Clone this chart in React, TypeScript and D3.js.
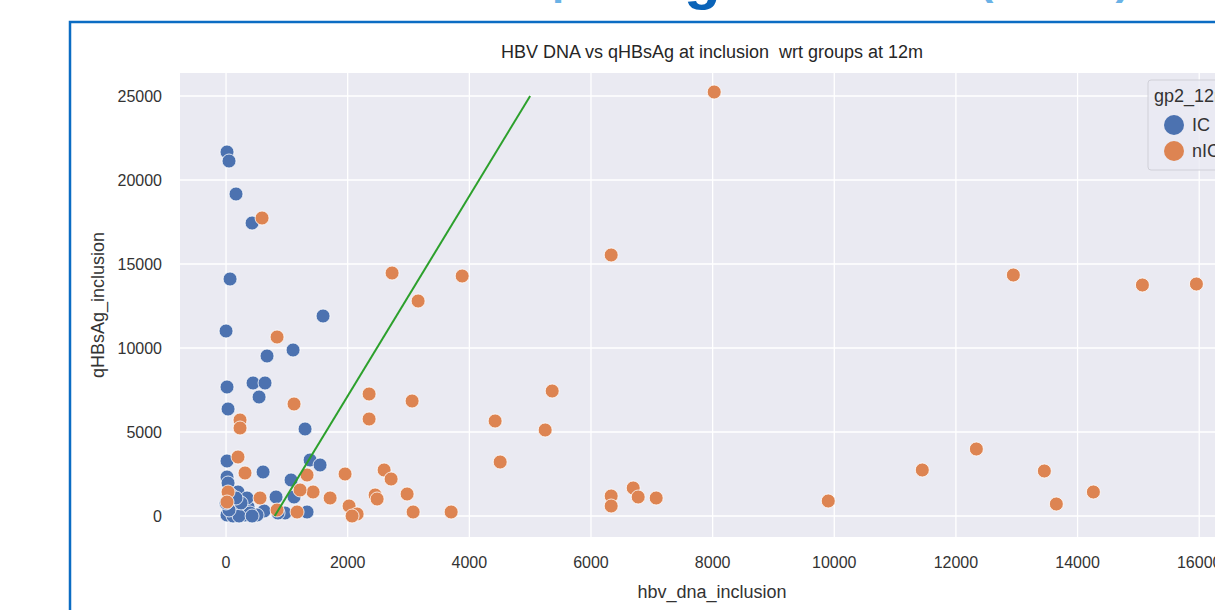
import React from "react"
import * as d3 from "d3"

// hbv_dna_inclusion / qHBsAg_inclusion, group IC
const icDna = [16, 49, 164, 428, 66, 0, 674, 1595, 1102, 16, 444, 641, 543, 33, 1299, 16, 609, 1382, 1546, 16, 33, 1069, 197, 1118, 822, 362, 625, 1332, 16, 181, 66, 280, 510, 970, 345, 855, 99, 148, 230, 312, 395, 115, 214, 428, 49, 0, 82, 247, 164]
const icHbs = [21667, 21131, 19167, 17440, 14107, 11012, 9524, 11905, 9881, 7679, 7917, 7917, 7083, 6369, 5179, 3274, 2619, 3333, 3036, 2321, 1964, 2143, 1429, 1131, 1131, 536, 298, 238, 60, 179, 536, 238, 60, 179, 1071, 179, 952, 655, 357, 60, 179, 0, 0, 0, 357, 774, 1250, 774, 1071]

// group nIC
const nicDna = [8026, 592, 2730, 3882, 3158, 6332, 12944, 15066, 15954, 839, 1118, 2352, 3059, 5362, 2352, 4424, 5247, 4507, 230, 230, 197, 312, 1957, 2599, 2714, 2451, 2484, 2977, 3076, 3701, 2023, 2155, 2072, 1711, 1431, 1332, 1217, 1168, 839, 559, 33, 16, 6332, 6332, 6694, 6776, 7072, 9901, 11447, 12336, 13454, 13651, 14260]
const nicHbs = [25238, 17738, 14464, 14286, 12798, 15536, 14345, 13750, 13810, 10655, 6667, 7262, 6845, 7440, 5774, 5655, 5119, 3214, 5714, 5238, 3512, 2560, 2500, 2738, 2202, 1250, 1012, 1310, 238, 238, 595, 119, 0, 1071, 1429, 2440, 1548, 238, 357, 1071, 1429, 833, 1190, 595, 1667, 1131, 1071, 893, 2738, 3988, 2679, 714, 1429]

const groups = ["IC", "nIC"]
const xTicks = [0, 2000, 4000, 6000, 8000, 10000, 12000, 14000, 16000]
const yTicks = [0, 5000, 10000, 15000, 20000, 25000]
const cutLine = [[800, 0], [5000, 25000]]

const colors = ["#4C72B0", "#DD8452"]
const font = "Liberation Sans, Arial, sans-serif"

export default function App() {
  const x = d3.scaleLinear().domain([-757, 16720]).range([180, 1243])
  const y = d3.scaleLinear().domain([-1250, 26370]).range([537, 73])

  const ic = icDna.map((d, i) => ({ x: d, y: icHbs[i], g: 0 }))
  const nic = nicDna.map((d, i) => ({ x: d, y: nicHbs[i], g: 1 }))
  const pts = [...ic, ...nic]

  const line = d3.line<number[]>().x(d => x(d[0])).y(d => y(d[1]))

  return (
    <div style={{ position: "fixed", left: 0, top: 0 }}>
      <svg width={1215} height={610} style={{ display: "block", background: "#fff" }}>
        {/* slide heading, mostly cropped away above the picture */}
        <g fontFamily={font} fontWeight="bold" fill="#6ab2e6">
          <text x={684} y={-6} textAnchor="end" fontSize={44}>Correlation of HBV DNA and qHBsA</text>
          <text x={684} y={-2} fontSize={60} fill="#0a63b8">g</text>
          <text x={722} y={-6} fontSize={44}>at inclusion (IU/mL)</text>
        </g>
        <rect x={70} y={22} width={1200} height={620} fill="#fff" stroke="#0b6cc3" strokeWidth={2.5} />

        <text x={712} y={58} textAnchor="middle" fontFamily={font} fontSize={18} fill="#262626" style={{ whiteSpace: "pre" }}>
          {"HBV DNA vs qHBsAg at inclusion  wrt groups at 12m"}
        </text>

        <rect x={180} y={73} width={1100} height={464} fill="#EAEAF2" />
        <g stroke="#fff" strokeWidth={1.3}>
          {xTicks.map(t => <line key={"gx" + t} x1={x(t)} x2={x(t)} y1={73} y2={537} />)}
          {yTicks.map(t => <line key={"gy" + t} x1={180} x2={1215} y1={y(t)} y2={y(t)} />)}
        </g>

        <g fontFamily={font} fontSize={16} fill="#333">
          {xTicks.map(t => (
            <text key={"tx" + t} x={x(t)} y={568} textAnchor="middle">{t}</text>
          ))}
          {yTicks.map(t => (
            <text key={"ty" + t} x={162} y={y(t) + 6} textAnchor="end">{t}</text>
          ))}
        </g>
        <text x={712} y={598} textAnchor="middle" fontFamily={font} fontSize={18} fill="#333">hbv_dna_inclusion</text>
        <text transform="translate(104,305) rotate(-90)" textAnchor="middle" fontFamily={font} fontSize={18} fill="#333">qHBsAg_inclusion</text>

        <g>
          {pts.map((p, i) => (
            <circle key={i} cx={x(p.x)} cy={y(p.y)} r={7} fill={colors[p.g]} stroke="#fff" strokeWidth={0.8} />
          ))}
        </g>

        <path d={line(cutLine) || ""} fill="none" stroke="#2ca02c" strokeWidth={2} />

        <g fontFamily={font} fontSize={18} fill="#333">
          <rect x={1148} y={80} width={120} height={90} rx={3} fill="#EAEAF2" fillOpacity={0.8} stroke="#d0d0d8" />
          <text x={1154} y={102}>gp2_12m</text>
          {groups.map((g, i) => (
            <g key={g}>
              <circle cx={1174} cy={125 + i * 26} r={10} fill={colors[i]} />
              <text x={1192} y={131 + i * 26}>{g}</text>
            </g>
          ))}
        </g>
      </svg>
    </div>
  )
}
